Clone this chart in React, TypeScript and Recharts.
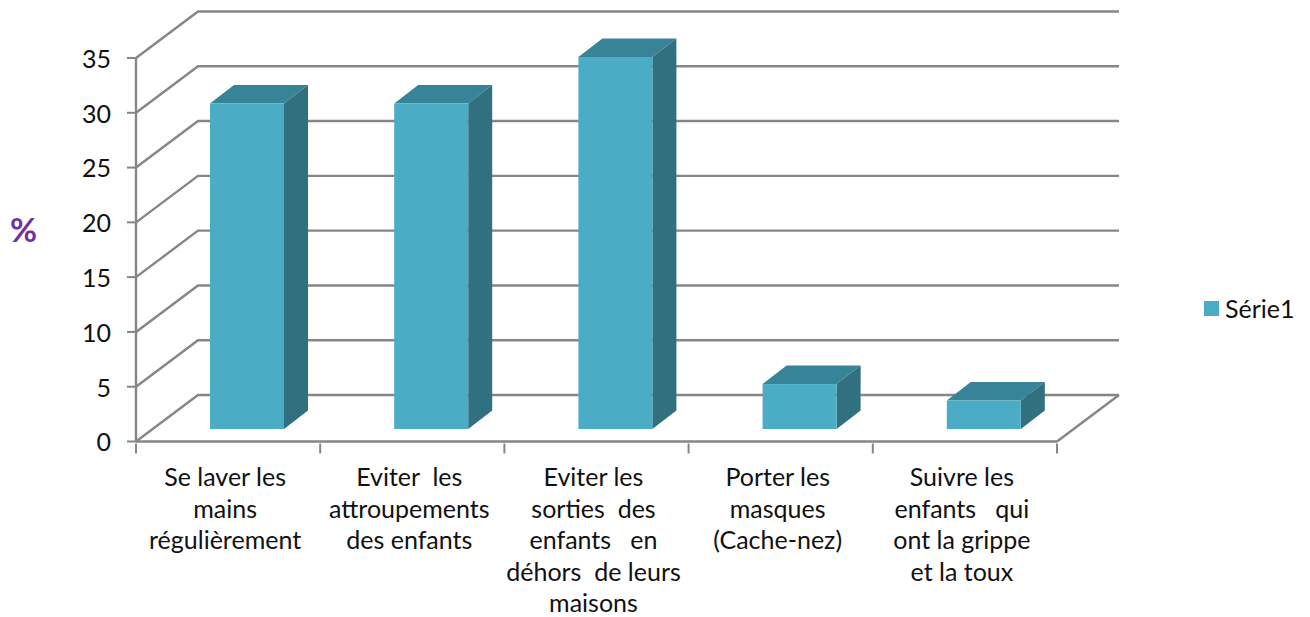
import React from 'react';
import { BarChart, Bar, XAxis, YAxis, CartesianGrid, Legend } from 'recharts';

const categories = [
  'Se laver les\nmains\nrégulièrement',
  'Eviter  les\nattroupements\ndes enfants',
  'Eviter les\nsorties  des\nenfants   en\ndéhors  de leurs\nmaisons',
  'Porter les\nmasques\n(Cache-nez)',
  'Suivre les\nenfants   qui\nont la grippe\net la toux',
];
const values = [29.7, 29.7, 33.95, 4.1, 2.6];
const yTicks = [0, 5, 10, 15, 20, 25, 30, 35];

const data = categories.map((name, i) => ({ name, value: values[i] }));

const FONT = 'Lato, "Open Sans", sans-serif';
const GREY = '#868686';
const WALL_DX = 62;
const WALL_DY = -46.5;
const BAR_DX = 19;
const BAR_DY = -12.5;
const DEPTH_X = 24;
const DEPTH_Y = -18.5;

// front face, top and side of a 3D column
const Column = (props: any) => {
  const { x, y, width, height } = props;
  const l = x + BAR_DX;
  const r = l + width;
  const t = y + BAR_DY;
  const b = t + height;
  return (
    <g>
      <polygon points={`${l},${t} ${r},${t} ${r + DEPTH_X},${t + DEPTH_Y} ${l + DEPTH_X},${t + DEPTH_Y}`} fill="#378398" />
      <polygon points={`${r},${t} ${r + DEPTH_X},${t + DEPTH_Y} ${r + DEPTH_X},${b + DEPTH_Y} ${r},${b}`} fill="#31707f" />
      <rect x={l} y={t} width={width} height={height} fill="#4bacc6" />
    </g>
  );
};

// grid line running along the side wall and the back wall
const WallLine = (props: any) => {
  const { x1, x2, y1, index } = props;
  const pts = `${x1},${y1} ${x1 + WALL_DX},${y1 + WALL_DY} ${x2 + WALL_DX},${y1 + WALL_DY}`;
  return (
    <g key={index}>
      <polyline points={pts} fill="none" stroke={GREY} strokeWidth={2.4} />
      {y1 > 430 && <line x1={x2} y1={y1} x2={x2 + WALL_DX} y2={y1 + WALL_DY} stroke={GREY} strokeWidth={2.4} />}
    </g>
  );
};

// label lines, with the tick marks set between categories
const CategoryTick = (props: any) => {
  const { x, y, payload, index, width } = props;
  const band = width / categories.length;
  const lines = String(payload.value).split('\n');
  const axisY = y - 10;
  return (
    <g>
      <line x1={x - band / 2} y1={axisY} x2={x - band / 2} y2={axisY + 10} stroke={GREY} strokeWidth={2} />
      {index === categories.length - 1 && (
        <line x1={x + band / 2} y1={axisY} x2={x + band / 2} y2={axisY + 10} stroke={GREY} strokeWidth={2} />
      )}
      {lines.map((line, i) => (
        <text
          key={i}
          x={x - 3}
          y={y + 32.5 + i * 31.6}
          textAnchor="middle"
          fontFamily={FONT}
          fontSize={25}
          fill="#111"
          style={{ whiteSpace: 'pre' }}
        >
          {line}
        </text>
      ))}
    </g>
  );
};

const LegendBox = () => (
  <div style={{ display: 'flex', alignItems: 'center', fontFamily: FONT, fontSize: 25, color: '#111' }}>
    <span style={{ width: 15, height: 15, background: '#4bacc6', marginRight: 6 }} />
    Série1
  </div>
);

export default function App() {
  return (
    <div style={{ position: 'absolute', left: 0, top: 0 }}>
      <BarChart width={1310} height={617} data={data} margin={{ top: 58, right: 253, bottom: 0, left: 0 }} barSize={74}>
        <CartesianGrid vertical={false} horizontal={(p: any) => <WallLine {...p} />} />
        <XAxis
          dataKey="name"
          height={175.5}
          interval={0}
          tick={<CategoryTick />}
          tickSize={10}
          tickLine={false}
          axisLine={{ stroke: GREY, strokeWidth: 2.4 }}
        />
        <YAxis
          width={136}
          domain={[0, 35]}
          ticks={yTicks}
          tickSize={9}
          tickMargin={16}
          interval={0}
          axisLine={{ stroke: GREY, strokeWidth: 2.4 }}
          tickLine={{ stroke: GREY, strokeWidth: 2 }}
          tick={{ fontFamily: FONT, fontSize: 25, fill: '#111', dy: 1 }}
          label={{
            value: '%',
            position: 'insideLeft',
            offset: 10,
            dy: -19,
            style: { fontFamily: FONT, fontSize: 33, fontWeight: 700, fill: '#7030a0' },
          }}
        />
        <Legend
          layout="horizontal"
          verticalAlign="middle"
          align="center"
          content={<LegendBox />}
          wrapperStyle={{ left: 1204, top: 293, width: 106, right: 'auto', bottom: 'auto' }}
        />
        <Bar dataKey="value" name="Série1" fill="#4bacc6" shape={<Column />} isAnimationActive={false} />
      </BarChart>
    </div>
  );
}
